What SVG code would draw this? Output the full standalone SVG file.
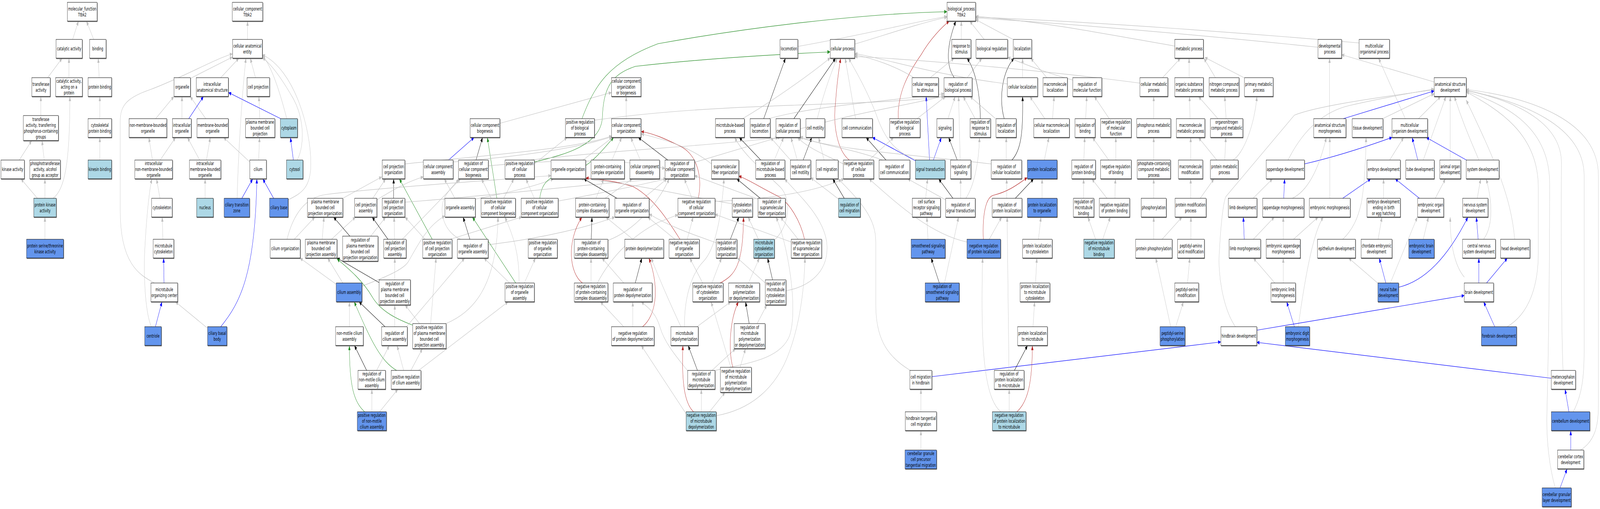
<svg xmlns="http://www.w3.org/2000/svg" width="7052" height="1304" viewBox="0 0 7052 1304" preserveAspectRatio="none">
<defs>
<style>
svg:root{width:100%;height:100%}
text{font-family:"DejaVu Sans","Liberation Sans",sans-serif;font-size:13px;text-anchor:middle;fill:#000}
.w,.lb,.bl{stroke:#000;stroke-width:1;filter:url(#sh)}
.w{fill:#fff}.lb{fill:#add8e6}.bl{fill:#6495ed}
#edges path{fill:none;stroke-width:1.2}
.g{stroke:#c0c0c0;marker-end:url(#mg)}
.k{stroke:#000;marker-end:url(#mk)}
.b{stroke:#0000ff;marker-end:url(#mb)}
.gr{stroke:#228b22;marker-end:url(#mgr)}
.r{stroke:#b22222;marker-end:url(#mr)}
</style>
<filter id="sh" x="-5%" y="-10%" width="115%" height="130%"><feDropShadow dx="1.5" dy="1.5" stdDeviation="0" flood-color="#555"/></filter>
<marker id="mg" markerWidth="12" markerHeight="10" refX="12" refY="5" orient="auto" markerUnits="userSpaceOnUse"><path d="M0,0L12,5L0,10z" fill="#c0c0c0"/></marker>
<marker id="mk" markerWidth="12" markerHeight="10" refX="12" refY="5" orient="auto" markerUnits="userSpaceOnUse"><path d="M0,0L12,5L0,10z" fill="#000"/></marker>
<marker id="mb" markerWidth="12" markerHeight="10" refX="12" refY="5" orient="auto" markerUnits="userSpaceOnUse"><path d="M0,0L12,5L0,10z" fill="#0000ff"/></marker>
<marker id="mgr" markerWidth="12" markerHeight="10" refX="12" refY="5" orient="auto" markerUnits="userSpaceOnUse"><path d="M0,0L12,5L0,10z" fill="#228b22"/></marker>
<marker id="mr" markerWidth="12" markerHeight="10" refX="12" refY="5" orient="auto" markerUnits="userSpaceOnUse"><path d="M0,0L12,5L0,10z" fill="#b22222"/></marker>
</defs>
<rect width="7052" height="1304" fill="#fff"/>
<g id="edges">
<path class="g" d="M320,101L346,54"/>
<path class="g" d="M413,101L381,54"/>
<path class="g" d="M210,199L274,149"/>
<path class="g" d="M304,199L304,149"/>
<path class="g" d="M437,199L433,149"/>
<path class="g" d="M180,296L180,247"/>
<path class="g" d="M440,304L440,247"/>
<path class="g" d="M85,410L140,360"/>
<path class="g" d="M195,410L185,360"/>
<path class="g" d="M440,410L440,352"/>
<path class="g" d="M165,508L92,458"/>
<path class="g" d="M198,508L198,458"/>
<path class="g" d="M234,508C285,485 308,420 308,247"/>
<path class="g" d="M198,613L198,556"/>
<path class="g" d="M1091,101L1091,54"/>
<path class="g" d="M839,201L1025,146"/>
<path class="g" d="M973,199L1053,149"/>
<path class="g" d="M1126,199L1103,149"/>
<path class="g" d="M680,725C620,705 530,680 530,540L530,310C530,270 560,250 660,230C800,200 950,150 1025,138"/>
<path class="g" d="M686,304L767,247"/>
<path class="g" d="M802,304L802,247"/>
<path class="g" d="M907,304L838,247"/>
<path class="g" d="M1145,304L1141,247"/>
<path class="g" d="M1264,304C1240,250 1200,170 1156,142"/>
<path class="g" d="M1310,410C1345,370 1340,300 1290,250C1250,210 1200,165 1156,148"/>
<path class="g" d="M1270,512C1330,495 1370,480 1370,420C1370,330 1300,180 1156,140"/>
<path class="g" d="M1045,508C1050,400 1065,250 1084,149"/>
<path class="g" d="M672,410L656,352"/>
<path class="g" d="M706,410L774,352"/>
<path class="g" d="M880,410L826,352"/>
<path class="g" d="M910,410L927,352"/>
<path class="g" d="M1101,415L985,352"/>
<path class="g" d="M1140,410L1144,352"/>
<path class="g" d="M904,508L904,458"/>
<path class="g" d="M705,508L690,458"/>
<path class="g" d="M718,613L715,556"/>
<path class="g" d="M667,837C640,800 630,700 640,620C648,540 660,480 670,458"/>
<path class="g" d="M913,840L773,773"/>
<path class="b" d="M832,304L897,247"/>
<path class="b" d="M1237,304L1007,237"/>
<path class="b" d="M1293,410L1280,352"/>
<path class="b" d="M1206,508L1158,458"/>
<path class="b" d="M1066,508L1114,458"/>
<path class="b" d="M723,725L721,661"/>
<path class="b" d="M685,837L714,773"/>
<path class="b" d="M973,837C1060,775 1125,700 1132,458"/>
<path class="g" d="M1511,508L1683,453"/>
<path class="g" d="M1643,508L1700,458"/>
<path class="k" d="M1735,508L1735,458"/>
<path class="gr" d="M1905,613L1760,458"/>
<path class="g" d="M1265,613C1290,555 1340,505 1440,498C1700,480 2100,465 2429,450"/>
<path class="g" d="M1297,613L1388,556"/>
<path class="g" d="M1420,613L1428,556"/>
<path class="g" d="M1461,613L1567,556"/>
<path class="k" d="M1542,605L1470,556"/>
<path class="g" d="M1634,605L1700,556"/>
<path class="k" d="M1710,613L1640,556"/>
<path class="g" d="M1739,613L1737,556"/>
<path class="g" d="M1773,613L2030,458"/>
<path class="g" d="M1481,728L1322,661"/>
<path class="g" d="M1511,725L1444,661"/>
<path class="g" d="M1595,733C1700,710 1780,690 1800,670C1840,630 1880,580 1961,553"/>
<path class="k" d="M1671,724L1485,661"/>
<path class="gr" d="M1819,833C1760,820 1680,800 1640,760C1600,720 1540,690 1485,663"/>
<path class="g" d="M1740,717L1740,661"/>
<path class="g" d="M1540,837L1540,773"/>
<path class="k" d="M1697,837L1582,773"/>
<path class="g" d="M1740,837L1740,781"/>
<path class="g" d="M1790,838L2048,661"/>
<path class="k" d="M1616,949L1562,885"/>
<path class="g" d="M1660,949L1716,885"/>
<path class="gr" d="M1748,949C1680,925 1640,880 1561,773"/>
<path class="g" d="M1779,949L1750,885"/>
<path class="g" d="M1811,949L1862,893"/>
<path class="g" d="M1845,949L2240,773"/>
<path class="gr" d="M1607,1055C1560,1030 1540,990 1540,885"/>
<path class="g" d="M1639,1055L1639,997"/>
<path class="g" d="M1673,1055L1754,997"/>
<path class="b" d="M1977,410L2090,352"/>
<path class="k" d="M2098,410L2127,352"/>
<path class="gr" d="M2190,508L2148,352"/>
<path class="g" d="M2203,316L2695,237"/>
<path class="g" d="M1997,415C2300,400 2550,380 2697,350"/>
<path class="g" d="M2152,425C2500,405 2800,410 2931,432"/>
<path class="g" d="M2005,508L1958,458"/>
<path class="g" d="M2095,510C2200,498 2350,480 2440,458"/>
<path class="g" d="M2165,508L2122,458"/>
<path class="g" d="M2220,508L2265,458"/>
<path class="g" d="M2355,508L2318,458"/>
<path class="gr" d="M2379,508C2390,460 2430,450 2520,440C2600,430 2660,380 2705,352"/>
<path class="g" d="M2460,515C2700,490 2850,470 2940,458"/>
<path class="gr" d="M2355,415C2500,395 2650,370 2655,300C2660,220 2700,190 2800,170C3100,150 3400,140 3659,133"/>
<path class="g" d="M2340,410C2700,385 3100,375 3440,352"/>
<path class="g" d="M2355,420L2500,352"/>
<path class="g" d="M1873,613L1785,556"/>
<path class="g" d="M1984,613L2300,556"/>
<path class="k" d="M2071,613L2041,556"/>
<path class="g" d="M2151,627C2400,610 2600,580 2710,556"/>
<path class="g" d="M2030,613C1960,595 1930,545 1960,505C1985,480 2010,470 2022,458"/>
<path class="gr" d="M2273,725L2082,556"/>
<path class="g" d="M2246,725L2133,661"/>
<path class="g" d="M2288,725C2290,650 2260,600 2225,556"/>
<path class="g" d="M2311,725L2360,661"/>
<path class="g" d="M1898,829L1922,661"/>
<path class="g" d="M1849,829L1785,781"/>
<path class="g" d="M1966,829C2080,800 2190,740 2195,556"/>
<path class="g" d="M1661,512C1750,480 1800,465 1866,453"/>
<path class="g" d="M1784,420C2200,395 2550,380 2697,348"/>
<path class="g" d="M1784,518C2200,500 2600,470 2935,458"/>
<path class="g" d="M2760,304L2760,247"/>
<path class="gr" d="M2565,304C2620,220 2680,160 2900,112C3300,70 3800,35 4174,30"/>
<path class="g" d="M2620,308C3200,260 3800,275 4163,247"/>
<path class="g" d="M2570,410L2700,352"/>
<path class="g" d="M2697,410L2740,352"/>
<path class="g" d="M2822,410L2780,352"/>
<path class="k" d="M2943,410L2813,352"/>
<path class="r" d="M3078,508C3095,460 3080,400 3000,375C2930,355 2880,342 2826,337"/>
<path class="g" d="M3136,420C3050,380 2950,360 2826,343"/>
<path class="g" d="M2627,508L2661,458"/>
<path class="g" d="M2667,508L2787,458"/>
<path class="k" d="M2719,508L2573,458"/>
<path class="g" d="M2836,508L2940,458"/>
<path class="r" d="M2997,613C2950,570 2880,505 2790,478C2700,462 2640,460 2582,456"/>
<path class="k" d="M2606,613L2609,556"/>
<path class="g" d="M2679,616C2800,590 2900,520 2950,458"/>
<path class="g" d="M2789,613L2670,556"/>
<path class="g" d="M2605,725L2605,661"/>
<path class="r" d="M2567,725C2510,700 2495,620 2565,556"/>
<path class="g" d="M2633,725C2700,650 2800,600 2900,570L2988,550"/>
<path class="k" d="M2800,725L2829,661"/>
<path class="g" d="M2749,725L2653,661"/>
<path class="g" d="M2789,837L2789,773"/>
<path class="r" d="M2832,837C2890,810 2910,740 2860,661"/>
<path class="g" d="M2749,837L2646,773"/>
<path class="g" d="M3001,837C2980,810 2930,750 2870,661"/>
<path class="g" d="M3031,950C2990,920 2930,880 2910,840C2890,800 2860,790 2826,773"/>
<path class="g" d="M3024,1060L2826,885"/>
<path class="k" d="M3366,304L3462,149"/>
<path class="g" d="M3516,119C3800,90 4000,60 4174,42"/>
<path class="k" d="M3499,304L3683,149"/>
<path class="g" d="M3273,304C3400,260 3550,200 3660,148"/>
<path class="g" d="M3388,304C3600,270 3900,260 4161,240"/>
<path class="k" d="M3353,410L3258,352"/>
<path class="g" d="M3413,410L3454,352"/>
<path class="g" d="M3514,410L3486,352"/>
<path class="g" d="M3484,410L3396,352"/>
<path class="k" d="M3540,410L3578,352"/>
<path class="g" d="M3061,416L3430,352"/>
<path class="g" d="M3050,508L3016,458"/>
<path class="g" d="M3151,516C3400,510 3600,490 3720,458"/>
<path class="g" d="M3227,522C3000,500 2800,470 2560,458"/>
<path class="k" d="M3351,508L3247,458"/>
<path class="g" d="M3341,510L3061,450"/>
<path class="g" d="M2975,613L2855,556"/>
<path class="g" d="M3029,613L3055,556"/>
<path class="k" d="M3219,613L3257,556"/>
<path class="g" d="M3157,622C3050,600 2950,580 2861,548"/>
<path class="g" d="M3343,613L3297,556"/>
<path class="g" d="M3413,615C3480,580 3490,510 3440,480C3380,445 3280,400 3238,352"/>
<path class="g" d="M3518,613L3440,556"/>
<path class="r" d="M3546,613C3530,570 3480,515 3420,500C3350,480 3300,460 3256,451"/>
<path class="g" d="M3487,620L3151,549"/>
<path class="g" d="M3138,725L3180,661"/>
<path class="r" d="M3174,725C3240,705 3275,680 3277,556"/>
<path class="g" d="M3097,725L3040,661"/>
<path class="g" d="M3299,725L3347,661"/>
<path class="k" d="M3405,717L3383,661"/>
<path class="g" d="M3373,725L3250,661"/>
<path class="g" d="M3464,745C3560,735 3650,700 3645,630C3640,560 3520,500 3458,458"/>
<path class="g" d="M3072,837L3221,773"/>
<path class="g" d="M3017,837C3015,760 3050,700 3100,670C3150,640 3180,560 3191,458"/>
<path class="k" d="M3302,829L3286,773"/>
<path class="g" d="M3337,829L3380,781"/>
<path class="k" d="M3074,949L3033,885"/>
<path class="g" d="M3138,949L3242,893"/>
<path class="g" d="M3151,949C3300,930 3440,920 3480,860C3520,790 3470,620 3420,556"/>
<path class="g" d="M3262,941L3286,893"/>
<path class="r" d="M3230,941C3210,900 3215,820 3255,773"/>
<path class="g" d="M3221,941L3134,773"/>
<path class="g" d="M3091,1055L3091,997"/>
<path class="r" d="M3057,1055C3010,1030 3005,960 3010,885"/>
<path class="g" d="M3127,1055L3196,1005"/>
<path class="g" d="M3157,1065C3300,1050 3420,1000 3480,900C3530,820 3545,730 3548,661"/>
<path class="g" d="M3767,113C3900,90 4050,60 4174,44"/>
<path class="g" d="M3602,304C3630,240 3660,190 3690,149"/>
<path class="r" d="M3743,410C3690,385 3670,320 3683,260C3690,200 3700,170 3705,149"/>
<path class="g" d="M3771,304L3725,149"/>
<path class="g" d="M4040,410C3950,390 3900,360 3860,290C3820,230 3770,180 3740,149"/>
<path class="r" d="M3959,304C3955,240 4000,190 4060,140C4100,100 4150,70 4184,54"/>
<path class="g" d="M4042,304L4168,247"/>
<path class="g" d="M4100,199L4205,149"/>
<path class="g" d="M4028,199C3950,170 3850,150 3767,140"/>
<path class="b" d="M4097,410L4082,247"/>
<path class="b" d="M4035,412L3845,352"/>
<path class="b" d="M4114,410L4149,352"/>
<path class="k" d="M3905,410L3817,352"/>
<path class="g" d="M3830,410L3939,352"/>
<path class="g" d="M3717,420C3650,400 3560,380 3515,352"/>
<path class="g" d="M3890,410C3750,380 3600,370 3527,350"/>
<path class="g" d="M3632,410L3608,352"/>
<path class="k" d="M3721,508L3670,458"/>
<path class="g" d="M3696,510L3573,455"/>
<path class="g" d="M4012,949C3900,910 3860,860 3860,780L3860,620C3860,560 3800,520 3694,458"/>
<path class="g" d="M4059,1055L4059,997"/>
<path class="g" d="M4059,1153L4059,1103"/>
<path class="b" d="M4107,965C4500,940 5000,900 5381,876"/>
<path class="g" d="M4080,508L4088,458"/>
<path class="g" d="M4090,613L4085,556"/>
<path class="k" d="M4140,725L4104,661"/>
<path class="g" d="M4163,725L4225,556"/>
<path class="g" d="M4262,620C4100,600 3950,520 3830,458"/>
<path class="g" d="M4168,512L4000,458"/>
<path class="g" d="M3527,330C3800,285 4000,270 4161,246"/>
<path class="g" d="M4237,101L4237,54"/>
<path class="g" d="M4338,101L4274,54"/>
<path class="g" d="M4465,101L4300,50"/>
<path class="k" d="M4206,199C4170,170 4170,120 4213,54"/>
<path class="g" d="M4263,199L4328,149"/>
<path class="k" d="M4321,304C4320,240 4300,180 4262,149"/>
<path class="g" d="M4298,304L4245,247"/>
<path class="g" d="M4178,304L4210,247"/>
<path class="k" d="M4219,410L4181,352"/>
<path class="g" d="M4232,410L4225,247"/>
<path class="k" d="M4200,508L4137,458"/>
<path class="g" d="M4234,508L4234,458"/>
<path class="g" d="M4257,508C4290,480 4315,420 4317,352"/>
<path class="k" d="M4426,304C4400,250 4420,180 4470,149"/>
<path class="g" d="M4388,304L4275,247"/>
<path class="g" d="M4507,199L4507,149"/>
<path class="g" d="M4614,199L4543,149"/>
<path class="g" d="M4605,304L4539,247"/>
<path class="g" d="M4639,304L4646,247"/>
<path class="g" d="M4435,410L4435,352"/>
<path class="k" d="M4460,410C4500,385 4510,340 4507,247"/>
<path class="g" d="M4369,420C4000,395 3700,385 3520,352"/>
<path class="g" d="M4603,410L4623,352"/>
<path class="k" d="M4475,508L4556,458"/>
<path class="g" d="M4437,508L4437,458"/>
<path class="g" d="M4593,508L4593,458"/>
<path class="g" d="M4360,613L4415,556"/>
<path class="r" d="M4334,613C4330,560 4340,505 4380,500C4450,490 4490,470 4528,455"/>
<path class="g" d="M4577,613L4588,556"/>
<path class="g" d="M4564,725L4570,661"/>
<path class="g" d="M4553,837L4560,773"/>
<path class="k" d="M4471,949L4529,885"/>
<path class="g" d="M4447,949L4439,556"/>
<path class="g" d="M4448,1055L4448,997"/>
<path class="r" d="M4482,1055C4530,1030 4550,980 4550,885"/>
<path class="g" d="M4411,1055C4340,1020 4320,900 4331,661"/>
<path class="g" d="M4728,205C4600,185 4500,160 4441,147"/>
<path class="g" d="M4440,215C4100,190 3900,150 3767,137"/>
<path class="g" d="M5178,118C4900,90 4600,55 4300,42"/>
<path class="g" d="M5124,199L5203,149"/>
<path class="g" d="M5024,213C4600,180 4000,150 3767,145"/>
<path class="g" d="M5241,199L5241,149"/>
<path class="g" d="M4785,304L4790,247"/>
<path class="g" d="M4889,304L4823,247"/>
<path class="g" d="M5085,304L5085,247"/>
<path class="g" d="M5245,304L5243,247"/>
<path class="g" d="M4777,410L4781,352"/>
<path class="g" d="M4887,410L4815,352"/>
<path class="g" d="M4918,410L4918,352"/>
<path class="g" d="M5085,410L5085,352"/>
<path class="g" d="M5248,410L5248,352"/>
<path class="g" d="M4776,508L4776,458"/>
<path class="g" d="M4879,508L4812,458"/>
<path class="g" d="M4914,508L4916,458"/>
<path class="g" d="M5085,508L5085,458"/>
<path class="g" d="M5248,508L5248,458"/>
<path class="g" d="M5290,508L5351,458"/>
<path class="g" d="M4829,613L4795,556"/>
<path class="g" d="M4860,613L4894,556"/>
<path class="g" d="M5085,613L5085,556"/>
<path class="g" d="M5122,613L5210,556"/>
<path class="g" d="M5249,613L5249,556"/>
<path class="g" d="M5234,725L5244,661"/>
<path class="g" d="M5160,837L5094,661"/>
<path class="g" d="M5182,837L5216,773"/>
<path class="g" d="M5363,410L5282,352"/>
<path class="g" d="M5368,304L5282,247"/>
<path class="g" d="M5357,199L5306,149"/>
<path class="g" d="M5483,199L5310,147"/>
<path class="g" d="M5404,304L5398,247"/>
<path class="g" d="M5398,410L5403,352"/>
<path class="g" d="M5434,410C5480,395 5530,320 5540,247"/>
<path class="g" d="M5809,121C5300,90 4700,60 4300,46"/>
<path class="g" d="M5860,304L5860,149"/>
<path class="g" d="M5677,410C5720,360 5800,290 5950,270C6100,250 6250,235 6321,228"/>
<path class="b" d="M5749,420C5900,400 6050,370 6136,352"/>
<path class="g" d="M5523,508L5609,458"/>
<path class="b" d="M5658,508L5662,458"/>
<path class="g" d="M5696,508C5760,490 5810,440 5846,352"/>
<path class="g" d="M5861,508L5861,352"/>
<path class="b" d="M5918,508L6042,458"/>
<path class="b" d="M5484,613L5480,556"/>
<path class="g" d="M5524,613L5617,556"/>
<path class="g" d="M5656,613L5656,556"/>
<path class="g" d="M5701,613L5810,556"/>
<path class="g" d="M5619,725L5524,661"/>
<path class="g" d="M5656,725L5656,661"/>
<path class="b" d="M5705,837L5671,773"/>
<path class="g" d="M5722,837C5740,760 5780,600 5833,556"/>
<path class="g" d="M5445,837C5390,790 5365,700 5375,640C5382,560 5395,510 5404,503L5705,295C5790,275 6000,255 6321,230"/>
<path class="b" d="M5539,846L6454,757"/>
<path class="b" d="M6837,969L5539,877"/>
<path class="g" d="M5918,613C5960,590 5985,560 6000,520C6015,470 6020,400 6021,352"/>
<path class="g" d="M5990,110C5500,85 4800,55 4300,44"/>
<path class="g" d="M6321,210L5913,140"/>
<path class="g" d="M6194,304L6076,149"/>
<path class="g" d="M6252,304L6350,247"/>
<path class="g" d="M6094,304L6321,240"/>
<path class="b" d="M5921,304L6321,233"/>
<path class="g" d="M6273,410L6373,247"/>
<path class="b" d="M6249,410L6224,352"/>
<path class="g" d="M6392,410L6392,247"/>
<path class="b" d="M6463,410L6286,352"/>
<path class="g" d="M6518,410C6490,370 6450,320 6410,247"/>
<path class="g" d="M6125,410L6187,352"/>
<path class="g" d="M6098,508L6098,458"/>
<path class="b" d="M6256,508L6149,458"/>
<path class="g" d="M6326,508L6371,458"/>
<path class="g" d="M6511,508L6526,458"/>
<path class="g" d="M6074,613L6091,556"/>
<path class="g" d="M6273,613L6296,556"/>
<path class="b" d="M6515,613L6507,556"/>
<path class="g" d="M6539,613C6580,580 6580,520 6550,458"/>
<path class="g" d="M6072,725L5944,661"/>
<path class="b" d="M6108,725L6079,661"/>
<path class="g" d="M6128,725L6247,556"/>
<path class="b" d="M6164,736C6280,720 6380,660 6470,556"/>
<path class="b" d="M6518,725L6518,661"/>
<path class="g" d="M6454,710C6410,680 6390,620 6392,556"/>
<path class="b" d="M6552,725L6644,661"/>
<path class="g" d="M6676,613C6660,500 6580,400 6462,256"/>
<path class="b" d="M6588,837L6539,773"/>
<path class="g" d="M6643,837C6750,800 6780,720 6780,650L6780,480C6780,340 6600,280 6462,235"/>
<path class="g" d="M6889,949C6882,850 6880,600 6882,420C6885,320 6700,260 6462,232"/>
<path class="b" d="M6915,1055L6898,997"/>
<path class="g" d="M6934,1055C6975,1010 6982,960 6982,900L6982,450C6982,320 6700,260 6462,231"/>
<path class="b" d="M6923,1153L6923,1103"/>
<path class="g" d="M6966,1153C7030,1130 7045,1090 7045,1040L7045,450C7045,310 6750,250 6462,229"/>
<path class="b" d="M6876,1250L6907,1201"/>
<path class="g" d="M6855,1250C6830,1200 6815,1130 6818,1060C6825,900 6830,700 6830,470C6830,330 6650,270 6462,234"/>
</g>
<g id="nodes">
<g id="mf"><rect class="w" x="297" y="6" width="131" height="48"/><text x="362.5" y="27">molecular_function<tspan x="362.5" dy="15">Ttbk2</tspan></text></g>
<g id="catact"><rect class="w" x="247" y="101" width="115" height="48"/><text x="304.5" y="129.5">catalytic activity</text></g>
<g id="binding"><rect class="w" x="395" y="101" width="72" height="48"/><text x="431" y="129.5">binding</text></g>
<g id="transf"><rect class="w" x="140" y="199" width="81" height="48"/><text x="180.5" y="220">transferase<tspan x="180.5" dy="15">activity</tspan></text></g>
<g id="catprot"><rect class="w" x="245" y="199" width="118" height="48"/><text x="304" y="212.5">catalytic activity,<tspan x="304" dy="15">acting on a</tspan><tspan x="304" dy="15">protein</tspan></text></g>
<g id="protbind"><rect class="w" x="388" y="199" width="104" height="48"/><text x="440" y="227.5">protein binding</text></g>
<g id="transfP"><rect class="w" x="103" y="296" width="154" height="64"/><text x="180" y="310">transferase<tspan x="180" dy="15">activity, transferring</tspan><tspan x="180" dy="15">phosphorus-containing</tspan><tspan x="180" dy="15">groups</tspan></text></g>
<g id="cytoprotbind"><rect class="w" x="388" y="304" width="104" height="48"/><text x="440" y="325">cytoskeletal<tspan x="440" dy="15">protein binding</tspan></text></g>
<g id="kinase"><rect class="w" x="4" y="410" width="103" height="48"/><text x="55.5" y="438.5">kinase activity</text></g>
<g id="phosphotr"><rect class="w" x="131" y="410" width="135" height="48"/><text x="198.5" y="423.5">phosphotransferase<tspan x="198.5" dy="15">activity, alcohol</tspan><tspan x="198.5" dy="15">group as acceptor</tspan></text></g>
<g id="kinesin"><rect class="lb" x="388" y="410" width="104" height="48"/><text x="440" y="438.5">kinesin binding</text></g>
<g id="pka"><rect class="lb" x="149" y="508" width="99" height="48"/><text x="198.5" y="529">protein kinase<tspan x="198.5" dy="15">activity</tspan></text></g>
<g id="pstk"><rect class="bl" x="117" y="613" width="163" height="48"/><text x="198.5" y="634">protein serine/threonine<tspan x="198.5" dy="15">kinase activity</tspan></text></g>
<g id="cc"><rect class="w" x="1024" y="6" width="134" height="48"/><text x="1091" y="27">cellular_component<tspan x="1091" dy="15">Ttbk2</tspan></text></g>
<g id="cae"><rect class="w" x="1025" y="101" width="131" height="48"/><text x="1090.5" y="122">cellular anatomical<tspan x="1090.5" dy="15">entity</tspan></text></g>
<g id="organelle"><rect class="w" x="767" y="199" width="72" height="48"/><text x="803" y="227.5">organelle</text></g>
<g id="ias"><rect class="w" x="865" y="199" width="141" height="48"/><text x="935.5" y="220">intracellular<tspan x="935.5" dy="15">anatomical structure</tspan></text></g>
<g id="cellproj"><rect class="w" x="1089" y="199" width="99" height="48"/><text x="1138.5" y="227.5">cell projection</text></g>
<g id="nmbo"><rect class="w" x="569" y="304" width="166" height="48"/><text x="652" y="325">non-membrane-bounded<tspan x="652" dy="15">organelle</tspan></text></g>
<g id="io"><rect class="w" x="760" y="304" width="83" height="48"/><text x="801.5" y="325">intracellular<tspan x="801.5" dy="15">organelle</tspan></text></g>
<g id="mbo"><rect class="w" x="868" y="304" width="138" height="48"/><text x="937" y="325">membrane-bounded<tspan x="937" dy="15">organelle</tspan></text></g>
<g id="pmbcp"><rect class="w" x="1082" y="304" width="129" height="48"/><text x="1146.5" y="317.5">plasma membrane<tspan x="1146.5" dy="15">bounded cell</tspan><tspan x="1146.5" dy="15">projection</tspan></text></g>
<g id="cytoplasm"><rect class="lb" x="1236" y="304" width="75" height="48"/><text x="1273.5" y="332.5">cytoplasm</text></g>
<g id="inmbo"><rect class="w" x="594" y="410" width="166" height="48"/><text x="677" y="423.5">intracellular<tspan x="677" dy="15">non-membrane-bounded</tspan><tspan x="677" dy="15">organelle</tspan></text></g>
<g id="imbo"><rect class="w" x="835" y="410" width="138" height="48"/><text x="904" y="423.5">intracellular<tspan x="904" dy="15">membrane-bounded</tspan><tspan x="904" dy="15">organelle</tspan></text></g>
<g id="cilium"><rect class="w" x="1101" y="410" width="73" height="48"/><text x="1137.5" y="438.5">cilium</text></g>
<g id="cytosol"><rect class="lb" x="1263" y="410" width="72" height="48"/><text x="1299" y="438.5">cytosol</text></g>
<g id="cytoskeleton"><rect class="w" x="668" y="508" width="91" height="48"/><text x="713.5" y="536.5">cytoskeleton</text></g>
<g id="nucleus"><rect class="lb" x="867" y="508" width="73" height="48"/><text x="903.5" y="536.5">nucleus</text></g>
<g id="ctz"><rect class="bl" x="988" y="508" width="112" height="48"/><text x="1044" y="529">ciliary transition<tspan x="1044" dy="15">zone</tspan></text></g>
<g id="cbase"><rect class="bl" x="1188" y="508" width="82" height="48"/><text x="1229" y="536.5">ciliary base</text></g>
<g id="mtcyto"><rect class="w" x="675" y="613" width="91" height="48"/><text x="720.5" y="634">microtubule<tspan x="720.5" dy="15">cytoskeleton</tspan></text></g>
<g id="mtoc"><rect class="w" x="665" y="725" width="118" height="48"/><text x="724" y="746">microtubule<tspan x="724" dy="15">organizing center</tspan></text></g>
<g id="centriole"><rect class="bl" x="638" y="837" width="73" height="48"/><text x="674.5" y="865.5">centriole</text></g>
<g id="cbb"><rect class="bl" x="915" y="837" width="85" height="48"/><text x="957.5" y="858">ciliary basal<tspan x="957.5" dy="15">body</tspan></text></g>
<g id="cpo"><rect class="w" x="1685" y="410" width="99" height="48"/><text x="1734.5" y="431">cell projection<tspan x="1734.5" dy="15">organization</tspan></text></g>
<g id="pmbcpo"><rect class="w" x="1355" y="508" width="156" height="48"/><text x="1433" y="521.5">plasma membrane<tspan x="1433" dy="15">bounded cell</tspan><tspan x="1433" dy="15">projection organization</tspan></text></g>
<g id="cpa"><rect class="w" x="1563" y="508" width="98" height="48"/><text x="1612" y="529">cell projection<tspan x="1612" dy="15">assembly</tspan></text></g>
<g id="rcpo"><rect class="w" x="1685" y="508" width="99" height="48"/><text x="1734.5" y="521.5">regulation of<tspan x="1734.5" dy="15">cell projection</tspan><tspan x="1734.5" dy="15">organization</tspan></text></g>
<g id="ciliumorg"><rect class="w" x="1191" y="613" width="132" height="48"/><text x="1257" y="641.5">cilium organization</text></g>
<g id="pmbcpa"><rect class="w" x="1346" y="613" width="139" height="48"/><text x="1415.5" y="626.5">plasma membrane<tspan x="1415.5" dy="15">bounded cell</tspan><tspan x="1415.5" dy="15">projection assembly</tspan></text></g>
<g id="rpmbcpo"><rect class="w" x="1510" y="605" width="156" height="64"/><text x="1588" y="619">regulation of<tspan x="1588" dy="15">plasma membrane</tspan><tspan x="1588" dy="15">bounded cell</tspan><tspan x="1588" dy="15">projection organization</tspan></text></g>
<g id="rcpa"><rect class="w" x="1691" y="613" width="99" height="48"/><text x="1740.5" y="626.5">regulation of<tspan x="1740.5" dy="15">cell projection</tspan><tspan x="1740.5" dy="15">assembly</tspan></text></g>
<g id="ciliumasm"><rect class="bl" x="1482" y="725" width="113" height="48"/><text x="1538.5" y="753.5">cilium assembly</text></g>
<g id="rpmbcpa"><rect class="w" x="1671" y="717" width="138" height="64"/><text x="1740" y="731">regulation of<tspan x="1740" dy="15">plasma membrane</tspan><tspan x="1740" dy="15">bounded cell</tspan><tspan x="1740" dy="15">projection assembly</tspan></text></g>
<g id="nmca"><rect class="w" x="1479" y="837" width="122" height="48"/><text x="1540" y="858">non-motile cilium<tspan x="1540" dy="15">assembly</tspan></text></g>
<g id="rca"><rect class="w" x="1682" y="837" width="113" height="48"/><text x="1738.5" y="858">regulation of<tspan x="1738.5" dy="15">cilium assembly</tspan></text></g>
<g id="rnmca"><rect class="w" x="1578" y="949" width="121" height="48"/><text x="1638.5" y="962.5">regulation of<tspan x="1638.5" dy="15">non-motile cilium</tspan><tspan x="1638.5" dy="15">assembly</tspan></text></g>
<g id="prca"><rect class="w" x="1724" y="949" width="131" height="48"/><text x="1789.5" y="970">positive regulation<tspan x="1789.5" dy="15">of cilium assembly</tspan></text></g>
<g id="prnmca"><rect class="bl" x="1575" y="1055" width="128" height="48"/><text x="1639" y="1068.5">positive regulation<tspan x="1639" dy="15">of non-motile</tspan><tspan x="1639" dy="15">cilium assembly</tspan></text></g>
<g id="ccb"><rect class="w" x="2072" y="304" width="131" height="48"/><text x="2137.5" y="325">cellular component<tspan x="2137.5" dy="15">biogenesis</tspan></text></g>
<g id="cca"><rect class="w" x="1866" y="410" width="131" height="48"/><text x="1931.5" y="431">cellular component<tspan x="1931.5" dy="15">assembly</tspan></text></g>
<g id="rccb"><rect class="w" x="2021" y="410" width="131" height="48"/><text x="2086.5" y="423.5">regulation of<tspan x="2086.5" dy="15">cellular component</tspan><tspan x="2086.5" dy="15">biogenesis</tspan></text></g>
<g id="prcp"><rect class="w" x="2226" y="410" width="129" height="48"/><text x="2290.5" y="423.5">positive regulation<tspan x="2290.5" dy="15">of cellular</tspan><tspan x="2290.5" dy="15">process</tspan></text></g>
<g id="oa"><rect class="w" x="1961" y="508" width="134" height="48"/><text x="2028" y="536.5">organelle assembly</text></g>
<g id="prccb"><rect class="w" x="2120" y="508" width="152" height="48"/><text x="2196" y="521.5">positive regulation<tspan x="2196" dy="15">of cellular</tspan><tspan x="2196" dy="15">component biogenesis</tspan></text></g>
<g id="prcco"><rect class="w" x="2297" y="508" width="163" height="48"/><text x="2378.5" y="521.5">positive regulation<tspan x="2378.5" dy="15">of cellular</tspan><tspan x="2378.5" dy="15">component organization</tspan></text></g>
<g id="prcpo"><rect class="w" x="1863" y="613" width="129" height="48"/><text x="1927.5" y="626.5">positive regulation<tspan x="1927.5" dy="15">of cell projection</tspan><tspan x="1927.5" dy="15">organization</tspan></text></g>
<g id="roa"><rect class="w" x="2016" y="613" width="135" height="48"/><text x="2083.5" y="634">regulation of<tspan x="2083.5" dy="15">organelle assembly</tspan></text></g>
<g id="proo"><rect class="w" x="2328" y="613" width="128" height="48"/><text x="2392" y="626.5">positive regulation<tspan x="2392" dy="15">of organelle</tspan><tspan x="2392" dy="15">organization</tspan></text></g>
<g id="proa"><rect class="w" x="2226" y="725" width="129" height="48"/><text x="2290.5" y="738.5">positive regulation<tspan x="2290.5" dy="15">of organelle</tspan><tspan x="2290.5" dy="15">assembly</tspan></text></g>
<g id="prpmbcpa"><rect class="w" x="1819" y="829" width="147" height="64"/><text x="1892.5" y="843">positive regulation<tspan x="1892.5" dy="15">of plasma membrane</tspan><tspan x="1892.5" dy="15">bounded cell</tspan><tspan x="1892.5" dy="15">projection assembly</tspan></text></g>
<g id="ccob"><rect class="w" x="2695" y="199" width="130" height="48"/><text x="2760" y="212.5">cellular component<tspan x="2760" dy="15">organization</tspan><tspan x="2760" dy="15">or biogenesis</tspan></text></g>
<g id="prbp"><rect class="w" x="2492" y="304" width="128" height="48"/><text x="2556" y="317.5">positive regulation<tspan x="2556" dy="15">of biological</tspan><tspan x="2556" dy="15">process</tspan></text></g>
<g id="cco"><rect class="w" x="2695" y="304" width="130" height="48"/><text x="2760" y="325">cellular component<tspan x="2760" dy="15">organization</tspan></text></g>
<g id="oo"><rect class="w" x="2429" y="410" width="152" height="48"/><text x="2505" y="438.5">organelle organization</text></g>
<g id="pcco"><rect class="w" x="2605" y="410" width="147" height="48"/><text x="2678.5" y="431">protein-containing<tspan x="2678.5" dy="15">complex organization</tspan></text></g>
<g id="ccd"><rect class="w" x="2776" y="410" width="131" height="48"/><text x="2841.5" y="431">cellular component<tspan x="2841.5" dy="15">disassembly</tspan></text></g>
<g id="rcco"><rect class="w" x="2931" y="410" width="130" height="48"/><text x="2996" y="423.5">regulation of<tspan x="2996" dy="15">cellular component</tspan><tspan x="2996" dy="15">organization</tspan></text></g>
<g id="pccd"><rect class="w" x="2537" y="508" width="147" height="48"/><text x="2610.5" y="529">protein-containing<tspan x="2610.5" dy="15">complex disassembly</tspan></text></g>
<g id="roo"><rect class="w" x="2710" y="508" width="151" height="48"/><text x="2785.5" y="529">regulation of<tspan x="2785.5" dy="15">organelle organization</tspan></text></g>
<g id="rpccd"><rect class="w" x="2531" y="613" width="148" height="48"/><text x="2605" y="626.5">regulation of<tspan x="2605" dy="15">protein-containing</tspan><tspan x="2605" dy="15">complex disassembly</tspan></text></g>
<g id="pdepol"><rect class="w" x="2754" y="613" width="171" height="48"/><text x="2839.5" y="641.5">protein depolymerization</text></g>
<g id="nroo"><rect class="w" x="2949" y="613" width="133" height="48"/><text x="3015.5" y="626.5">negative regulation<tspan x="3015.5" dy="15">of organelle</tspan><tspan x="3015.5" dy="15">organization</tspan></text></g>
<g id="nrpccd"><rect class="w" x="2531" y="725" width="148" height="48"/><text x="2605" y="738.5">negative regulation<tspan x="2605" dy="15">of protein-containing</tspan><tspan x="2605" dy="15">complex disassembly</tspan></text></g>
<g id="rpdepol"><rect class="w" x="2703" y="725" width="171" height="48"/><text x="2788.5" y="746">regulation of<tspan x="2788.5" dy="15">protein depolymerization</tspan></text></g>
<g id="nrpdepol"><rect class="w" x="2695" y="837" width="188" height="48"/><text x="2789" y="858">negative regulation<tspan x="2789" dy="15">of protein depolymerization</tspan></text></g>
<g id="locomotion"><rect class="w" x="3438" y="101" width="78" height="48"/><text x="3477" y="129.5">locomotion</text></g>
<g id="mtbp"><rect class="w" x="3153" y="304" width="128" height="48"/><text x="3217" y="325">microtubule-based<tspan x="3217" dy="15">process</tspan></text></g>
<g id="rloc"><rect class="w" x="3306" y="304" width="89" height="48"/><text x="3350.5" y="325">regulation of<tspan x="3350.5" dy="15">locomotion</tspan></text></g>
<g id="rcp"><rect class="w" x="3420" y="304" width="107" height="48"/><text x="3473.5" y="325">regulation of<tspan x="3473.5" dy="15">cellular process</tspan></text></g>
<g id="sfo"><rect class="w" x="3136" y="410" width="120" height="48"/><text x="3196" y="431">supramolecular<tspan x="3196" dy="15">fiber organization</tspan></text></g>
<g id="rmtbp"><rect class="w" x="3331" y="410" width="128" height="48"/><text x="3395" y="423.5">regulation of<tspan x="3395" dy="15">microtubule-based</tspan><tspan x="3395" dy="15">process</tspan></text></g>
<g id="rcm"><rect class="w" x="3484" y="410" width="89" height="48"/><text x="3528.5" y="431">regulation of<tspan x="3528.5" dy="15">cell motility</tspan></text></g>
<g id="nrcco"><rect class="w" x="2988" y="508" width="163" height="48"/><text x="3069.5" y="521.5">negative regulation<tspan x="3069.5" dy="15">of cellular</tspan><tspan x="3069.5" dy="15">component organization</tspan></text></g>
<g id="cytoorg"><rect class="w" x="3227" y="508" width="90" height="48"/><text x="3272" y="529">cytoskeleton<tspan x="3272" dy="15">organization</tspan></text></g>
<g id="rsfo"><rect class="w" x="3341" y="508" width="120" height="48"/><text x="3401" y="521.5">regulation of<tspan x="3401" dy="15">supramolecular</tspan><tspan x="3401" dy="15">fiber organization</tspan></text></g>
<g id="rcytoorg"><rect class="w" x="3157" y="613" width="91" height="48"/><text x="3202.5" y="626.5">regulation of<tspan x="3202.5" dy="15">cytoskeleton</tspan><tspan x="3202.5" dy="15">organization</tspan></text></g>
<g id="mtco"><rect class="lb" x="3322" y="613" width="91" height="48"/><text x="3367.5" y="626.5">microtubule<tspan x="3367.5" dy="15">cytoskeleton</tspan><tspan x="3367.5" dy="15">organization</tspan></text></g>
<g id="nrsfo"><rect class="w" x="3487" y="613" width="134" height="48"/><text x="3554" y="626.5">negative regulation<tspan x="3554" dy="15">of supramolecular</tspan><tspan x="3554" dy="15">fiber organization</tspan></text></g>
<g id="nrcytoorg"><rect class="w" x="3053" y="725" width="134" height="48"/><text x="3120" y="738.5">negative regulation<tspan x="3120" dy="15">of cytoskeleton</tspan><tspan x="3120" dy="15">organization</tspan></text></g>
<g id="mtpd"><rect class="w" x="3211" y="725" width="137" height="48"/><text x="3279.5" y="738.5">microtubule<tspan x="3279.5" dy="15">polymerization</tspan><tspan x="3279.5" dy="15">or depolymerization</tspan></text></g>
<g id="rmtco"><rect class="w" x="3373" y="717" width="91" height="64"/><text x="3418.5" y="731">regulation of<tspan x="3418.5" dy="15">microtubule</tspan><tspan x="3418.5" dy="15">cytoskeleton</tspan><tspan x="3418.5" dy="15">organization</tspan></text></g>
<g id="mtdepol"><rect class="w" x="2957" y="837" width="120" height="48"/><text x="3017" y="858">microtubule<tspan x="3017" dy="15">depolymerization</tspan></text></g>
<g id="rmtpd"><rect class="w" x="3236" y="829" width="136" height="64"/><text x="3304" y="843">regulation of<tspan x="3304" dy="15">microtubule</tspan><tspan x="3304" dy="15">polymerization</tspan><tspan x="3304" dy="15">or depolymerization</tspan></text></g>
<g id="rmtdepol"><rect class="w" x="3031" y="949" width="120" height="48"/><text x="3091" y="962.5">regulation of<tspan x="3091" dy="15">microtubule</tspan><tspan x="3091" dy="15">depolymerization</tspan></text></g>
<g id="nrmtpd"><rect class="w" x="3175" y="941" width="137" height="64"/><text x="3243.5" y="955">negative regulation<tspan x="3243.5" dy="15">of microtubule</tspan><tspan x="3243.5" dy="15">polymerization</tspan><tspan x="3243.5" dy="15">or depolymerization</tspan></text></g>
<g id="nrmtdepol"><rect class="lb" x="3024" y="1055" width="133" height="48"/><text x="3090.5" y="1068.5">negative regulation<tspan x="3090.5" dy="15">of microtubule</tspan><tspan x="3090.5" dy="15">depolymerization</tspan></text></g>
<g id="cp"><rect class="w" x="3659" y="101" width="108" height="48"/><text x="3713" y="129.5">cellular process</text></g>
<g id="crs"><rect class="w" x="4020" y="199" width="116" height="48"/><text x="4078" y="220">cellular response<tspan x="4078" dy="15">to stimulus</tspan></text></g>
<g id="cmot"><rect class="w" x="3552" y="304" width="83" height="48"/><text x="3593.5" y="332.5">cell motility</text></g>
<g id="ccomm"><rect class="w" x="3711" y="304" width="134" height="48"/><text x="3778" y="332.5">cell communication</text></g>
<g id="nrbp"><rect class="w" x="3921" y="304" width="134" height="48"/><text x="3988" y="317.5">negative regulation<tspan x="3988" dy="15">of biological</tspan><tspan x="3988" dy="15">process</tspan></text></g>
<g id="signaling"><rect class="w" x="4129" y="304" width="72" height="48"/><text x="4165" y="332.5">signaling</text></g>
<g id="cmig"><rect class="w" x="3597" y="410" width="97" height="48"/><text x="3645.5" y="438.5">cell migration</text></g>
<g id="nrcp"><rect class="w" x="3717" y="410" width="134" height="48"/><text x="3784" y="423.5">negative regulation<tspan x="3784" dy="15">of cellular</tspan><tspan x="3784" dy="15">process</tspan></text></g>
<g id="rcc"><rect class="w" x="3875" y="410" width="135" height="48"/><text x="3942.5" y="431">regulation of<tspan x="3942.5" dy="15">cell communication</tspan></text></g>
<g id="st"><rect class="lb" x="4035" y="410" width="130" height="48"/><text x="4100" y="438.5">signal transduction</text></g>
<g id="rcmig"><rect class="lb" x="3696" y="508" width="96" height="48"/><text x="3744" y="529">regulation of<tspan x="3744" dy="15">cell migration</tspan></text></g>
<g id="csrsp"><rect class="w" x="4021" y="508" width="124" height="48"/><text x="4083" y="521.5">cell surface<tspan x="4083" dy="15">receptor signaling</tspan><tspan x="4083" dy="15">pathway</tspan></text></g>
<g id="ssp"><rect class="bl" x="4016" y="613" width="150" height="48"/><text x="4091" y="634">smoothened signaling<tspan x="4091" dy="15">pathway</tspan></text></g>
<g id="rssp"><rect class="bl" x="4078" y="725" width="150" height="48"/><text x="4153" y="738.5">regulation of<tspan x="4153" dy="15">smoothened signaling</tspan><tspan x="4153" dy="15">pathway</tspan></text></g>
<g id="cmh"><rect class="w" x="4010" y="949" width="97" height="48"/><text x="4058.5" y="970">cell migration<tspan x="4058.5" dy="15">in hindbrain</tspan></text></g>
<g id="htcm"><rect class="w" x="3990" y="1055" width="138" height="48"/><text x="4059" y="1076">hindbrain tangential<tspan x="4059" dy="15">cell migration</tspan></text></g>
<g id="cgcptm"><rect class="bl" x="3989" y="1153" width="139" height="48"/><text x="4058.5" y="1166.5">cerebellar granule<tspan x="4058.5" dy="15">cell precursor</tspan><tspan x="4058.5" dy="15">tangential migration</tspan></text></g>
<g id="bp"><rect class="w" x="4174" y="6" width="126" height="48"/><text x="4237" y="27">biological_process<tspan x="4237" dy="15">Ttbk2</tspan></text></g>
<g id="rts"><rect class="w" x="4195" y="101" width="84" height="48"/><text x="4237" y="122">response to<tspan x="4237" dy="15">stimulus</tspan></text></g>
<g id="breg"><rect class="w" x="4302" y="101" width="139" height="48"/><text x="4371.5" y="129.5">biological regulation</text></g>
<g id="loc"><rect class="w" x="4466" y="101" width="81" height="48"/><text x="4506.5" y="129.5">localization</text></g>
<g id="rbp"><rect class="w" x="4161" y="199" width="123" height="48"/><text x="4222.5" y="220">regulation of<tspan x="4222.5" dy="15">biological process</tspan></text></g>
<g id="cloc"><rect class="w" x="4440" y="199" width="133" height="48"/><text x="4506.5" y="227.5">cellular localization</text></g>
<g id="mloc"><rect class="w" x="4597" y="199" width="107" height="48"/><text x="4650.5" y="220">macromolecule<tspan x="4650.5" dy="15">localization</tspan></text></g>
<g id="rrs"><rect class="w" x="4276" y="304" width="90" height="48"/><text x="4321" y="317.5">regulation of<tspan x="4321" dy="15">response to</tspan><tspan x="4321" dy="15">stimulus</tspan></text></g>
<g id="rloc2"><rect class="w" x="4390" y="304" width="89" height="48"/><text x="4434.5" y="325">regulation of<tspan x="4434.5" dy="15">localization</tspan></text></g>
<g id="cmloc"><rect class="w" x="4556" y="304" width="157" height="48"/><text x="4634.5" y="325">cellular macromolecule<tspan x="4634.5" dy="15">localization</tspan></text></g>
<g id="rsig"><rect class="w" x="4190" y="410" width="89" height="48"/><text x="4234.5" y="431">regulation of<tspan x="4234.5" dy="15">signaling</tspan></text></g>
<g id="rcloc"><rect class="w" x="4369" y="410" width="134" height="48"/><text x="4436" y="431">regulation of<tspan x="4436" dy="15">cellular localization</tspan></text></g>
<g id="ploc"><rect class="bl" x="4528" y="410" width="131" height="48"/><text x="4593.5" y="438.5">protein localization</text></g>
<g id="rst"><rect class="w" x="4168" y="508" width="130" height="48"/><text x="4233" y="529">regulation of<tspan x="4233" dy="15">signal transduction</tspan></text></g>
<g id="rploc"><rect class="w" x="4373" y="508" width="131" height="48"/><text x="4438.5" y="529">regulation of<tspan x="4438.5" dy="15">protein localization</tspan></text></g>
<g id="plo"><rect class="bl" x="4528" y="508" width="131" height="48"/><text x="4593.5" y="529">protein localization<tspan x="4593.5" dy="15">to organelle</tspan></text></g>
<g id="nrploc"><rect class="bl" x="4262" y="613" width="148" height="48"/><text x="4336" y="634">negative regulation<tspan x="4336" dy="15">of protein localization</tspan></text></g>
<g id="plc"><rect class="w" x="4507" y="613" width="130" height="48"/><text x="4572" y="634">protein localization<tspan x="4572" dy="15">to cytoskeleton</tspan></text></g>
<g id="plmtc"><rect class="w" x="4496" y="725" width="131" height="48"/><text x="4561.5" y="738.5">protein localization<tspan x="4561.5" dy="15">to microtubule</tspan><tspan x="4561.5" dy="15">cytoskeleton</tspan></text></g>
<g id="plmt"><rect class="w" x="4485" y="837" width="131" height="48"/><text x="4550.5" y="858">protein localization<tspan x="4550.5" dy="15">to microtubule</tspan></text></g>
<g id="rplmt"><rect class="w" x="4382" y="949" width="131" height="48"/><text x="4447.5" y="962.5">regulation of<tspan x="4447.5" dy="15">protein localization</tspan><tspan x="4447.5" dy="15">to microtubule</tspan></text></g>
<g id="nrplmt"><rect class="lb" x="4374" y="1055" width="148" height="48"/><text x="4448" y="1068.5">negative regulation<tspan x="4448" dy="15">of protein localization</tspan><tspan x="4448" dy="15">to microtubule</tspan></text></g>
<g id="mp"><rect class="w" x="5178" y="101" width="126" height="48"/><text x="5241" y="129.5">metabolic process</text></g>
<g id="rmf"><rect class="w" x="4728" y="199" width="128" height="48"/><text x="4792" y="220">regulation of<tspan x="4792" dy="15">molecular function</tspan></text></g>
<g id="cmp"><rect class="w" x="5024" y="199" width="123" height="48"/><text x="5085.5" y="220">cellular metabolic<tspan x="5085.5" dy="15">process</tspan></text></g>
<g id="osmp"><rect class="w" x="5178" y="199" width="126" height="48"/><text x="5241" y="220">organic substance<tspan x="5241" dy="15">metabolic process</tspan></text></g>
<g id="rbind"><rect class="w" x="4738" y="304" width="89" height="48"/><text x="4782.5" y="325">regulation of<tspan x="4782.5" dy="15">binding</tspan></text></g>
<g id="nrmf"><rect class="w" x="4851" y="304" width="135" height="48"/><text x="4918.5" y="317.5">negative regulation<tspan x="4918.5" dy="15">of molecular</tspan><tspan x="4918.5" dy="15">function</tspan></text></g>
<g id="pmp"><rect class="w" x="5010" y="304" width="150" height="48"/><text x="5085" y="325">phosphorus metabolic<tspan x="5085" dy="15">process</tspan></text></g>
<g id="mmp"><rect class="w" x="5185" y="304" width="125" height="48"/><text x="5247.5" y="325">macromolecule<tspan x="5247.5" dy="15">metabolic process</tspan></text></g>
<g id="rpb"><rect class="w" x="4724" y="410" width="104" height="48"/><text x="4776" y="431">regulation of<tspan x="4776" dy="15">protein binding</tspan></text></g>
<g id="nrbind"><rect class="w" x="4851" y="410" width="135" height="48"/><text x="4918.5" y="431">negative regulation<tspan x="4918.5" dy="15">of binding</tspan></text></g>
<g id="pccmp"><rect class="w" x="5012" y="410" width="147" height="48"/><text x="5085.5" y="423.5">phosphate-containing<tspan x="5085.5" dy="15">compound metabolic</tspan><tspan x="5085.5" dy="15">process</tspan></text></g>
<g id="mmod"><rect class="w" x="5194" y="410" width="107" height="48"/><text x="5247.5" y="431">macromolecule<tspan x="5247.5" dy="15">modification</tspan></text></g>
<g id="rmtb"><rect class="w" x="4731" y="508" width="90" height="48"/><text x="4776" y="521.5">regulation of<tspan x="4776" dy="15">microtubule</tspan><tspan x="4776" dy="15">binding</tspan></text></g>
<g id="nrpb"><rect class="w" x="4845" y="508" width="134" height="48"/><text x="4912" y="529">negative regulation<tspan x="4912" dy="15">of protein binding</tspan></text></g>
<g id="phos"><rect class="w" x="5030" y="508" width="110" height="48"/><text x="5085" y="536.5">phosphorylation</text></g>
<g id="pmodp"><rect class="w" x="5179" y="508" width="137" height="48"/><text x="5247.5" y="529">protein modification<tspan x="5247.5" dy="15">process</tspan></text></g>
<g id="nrmtb"><rect class="lb" x="4777" y="613" width="134" height="48"/><text x="4844" y="626.5">negative regulation<tspan x="4844" dy="15">of microtubule</tspan><tspan x="4844" dy="15">binding</tspan></text></g>
<g id="pphos"><rect class="w" x="5005" y="613" width="161" height="48"/><text x="5085.5" y="641.5">protein phosphorylation</text></g>
<g id="paam"><rect class="w" x="5190" y="613" width="118" height="48"/><text x="5249" y="634">peptidyl-amino<tspan x="5249" dy="15">acid modification</tspan></text></g>
<g id="psm"><rect class="w" x="5178" y="725" width="105" height="48"/><text x="5230.5" y="746">peptidyl-serine<tspan x="5230.5" dy="15">modification</tspan></text></g>
<g id="psp"><rect class="bl" x="5113" y="837" width="110" height="48"/><text x="5168" y="858">peptidyl-serine<tspan x="5168" dy="15">phosphorylation</tspan></text></g>
<g id="devp"><rect class="w" x="5809" y="101" width="104" height="48"/><text x="5861" y="122">developmental<tspan x="5861" dy="15">process</tspan></text></g>
<g id="ncmp"><rect class="w" x="5329" y="199" width="132" height="48"/><text x="5395" y="220">nitrogen compound<tspan x="5395" dy="15">metabolic process</tspan></text></g>
<g id="primp"><rect class="w" x="5485" y="199" width="126" height="48"/><text x="5548" y="220">primary metabolic<tspan x="5548" dy="15">process</tspan></text></g>
<g id="oncmp"><rect class="w" x="5335" y="304" width="143" height="48"/><text x="5406.5" y="317.5">organonitrogen<tspan x="5406.5" dy="15">compound metabolic</tspan><tspan x="5406.5" dy="15">process</tspan></text></g>
<g id="asm"><rect class="w" x="5790" y="304" width="142" height="48"/><text x="5861" y="325">anatomical structure<tspan x="5861" dy="15">morphogenesis</tspan></text></g>
<g id="protmp"><rect class="w" x="5335" y="410" width="122" height="48"/><text x="5396" y="431">protein metabolic<tspan x="5396" dy="15">process</tspan></text></g>
<g id="appdev"><rect class="w" x="5581" y="410" width="168" height="48"/><text x="5665" y="438.5">appendage development</text></g>
<g id="limbdev"><rect class="w" x="5414" y="508" width="126" height="48"/><text x="5477" y="536.5">limb development</text></g>
<g id="appmorph"><rect class="w" x="5565" y="508" width="182" height="48"/><text x="5656" y="536.5">appendage morphogenesis</text></g>
<g id="embmorph"><rect class="w" x="5771" y="508" width="180" height="48"/><text x="5861" y="536.5">embryonic morphogenesis</text></g>
<g id="limbmorph"><rect class="w" x="5417" y="613" width="139" height="48"/><text x="5486.5" y="641.5">limb morphogenesis</text></g>
<g id="eam"><rect class="w" x="5581" y="613" width="150" height="48"/><text x="5656" y="634">embryonic appendage<tspan x="5656" dy="15">morphogenesis</tspan></text></g>
<g id="epidev"><rect class="w" x="5807" y="613" width="167" height="48"/><text x="5890.5" y="641.5">epithelium development</text></g>
<g id="elm"><rect class="w" x="5602" y="725" width="108" height="48"/><text x="5656" y="746">embryonic limb<tspan x="5656" dy="15">morphogenesis</tspan></text></g>
<g id="hbdev"><rect class="w" x="5381" y="837" width="158" height="48"/><text x="5460" y="865.5">hindbrain development</text></g>
<g id="edm"><rect class="bl" x="5665" y="837" width="107" height="48"/><text x="5718.5" y="858">embryonic digit<tspan x="5718.5" dy="15">morphogenesis</tspan></text></g>
<g id="mop"><rect class="w" x="5990" y="101" width="134" height="48"/><text x="6057" y="122">multicellular<tspan x="6057" dy="15">organismal process</tspan></text></g>
<g id="asd"><rect class="w" x="6321" y="199" width="141" height="48"/><text x="6391.5" y="220">anatomical structure<tspan x="6391.5" dy="15">development</tspan></text></g>
<g id="tissuedev"><rect class="w" x="5960" y="304" width="135" height="48"/><text x="6027.5" y="332.5">tissue development</text></g>
<g id="mod"><rect class="w" x="6135" y="304" width="157" height="48"/><text x="6213.5" y="325">multicellular<tspan x="6213.5" dy="15">organism development</tspan></text></g>
<g id="embdev"><rect class="w" x="6025" y="410" width="147" height="48"/><text x="6098.5" y="438.5">embryo development</text></g>
<g id="tubedev"><rect class="w" x="6196" y="410" width="125" height="48"/><text x="6258.5" y="438.5">tube development</text></g>
<g id="aod"><rect class="w" x="6346" y="410" width="92" height="48"/><text x="6392" y="431">animal organ<tspan x="6392" dy="15">development</tspan></text></g>
<g id="sysdev"><rect class="w" x="6462" y="410" width="145" height="48"/><text x="6534.5" y="438.5">system development</text></g>
<g id="edebh"><rect class="w" x="6025" y="508" width="147" height="48"/><text x="6098.5" y="521.5">embryo development<tspan x="6098.5" dy="15">ending in birth</tspan><tspan x="6098.5" dy="15">or egg hatching</tspan></text></g>
<g id="eod"><rect class="w" x="6248" y="508" width="115" height="48"/><text x="6305.5" y="529">embryonic organ<tspan x="6305.5" dy="15">development</tspan></text></g>
<g id="nsd"><rect class="w" x="6447" y="508" width="111" height="48"/><text x="6502.5" y="529">nervous system<tspan x="6502.5" dy="15">development</tspan></text></g>
<g id="ced"><rect class="w" x="5999" y="613" width="136" height="48"/><text x="6067" y="634">chordate embryonic<tspan x="6067" dy="15">development</tspan></text></g>
<g id="ebd"><rect class="bl" x="6209" y="613" width="112" height="48"/><text x="6265" y="634">embryonic brain<tspan x="6265" dy="15">development</tspan></text></g>
<g id="cnsd"><rect class="w" x="6446" y="613" width="145" height="48"/><text x="6518.5" y="634">central nervous<tspan x="6518.5" dy="15">system development</tspan></text></g>
<g id="headdev"><rect class="w" x="6614" y="613" width="129" height="48"/><text x="6678.5" y="641.5">head development</text></g>
<g id="ntd"><rect class="bl" x="6073" y="725" width="91" height="48"/><text x="6118.5" y="746">neural tube<tspan x="6118.5" dy="15">development</tspan></text></g>
<g id="braindev"><rect class="w" x="6454" y="725" width="129" height="48"/><text x="6518.5" y="753.5">brain development</text></g>
<g id="fbdev"><rect class="bl" x="6529" y="837" width="155" height="48"/><text x="6606.5" y="865.5">forebrain development</text></g>
<g id="metdev"><rect class="w" x="6837" y="949" width="107" height="48"/><text x="6890.5" y="970">metencephalon<tspan x="6890.5" dy="15">development</tspan></text></g>
<g id="cbdev"><rect class="bl" x="6838" y="1055" width="169" height="48"/><text x="6922.5" y="1083.5">cerebellum development</text></g>
<g id="ccdev"><rect class="w" x="6865" y="1153" width="115" height="48"/><text x="6922.5" y="1174">cerebellar cortex<tspan x="6922.5" dy="15">development</tspan></text></g>
<g id="cgldev"><rect class="bl" x="6797" y="1250" width="128" height="48"/><text x="6861" y="1271">cerebellar granular<tspan x="6861" dy="15">layer development</tspan></text></g>
</g>
</svg>
